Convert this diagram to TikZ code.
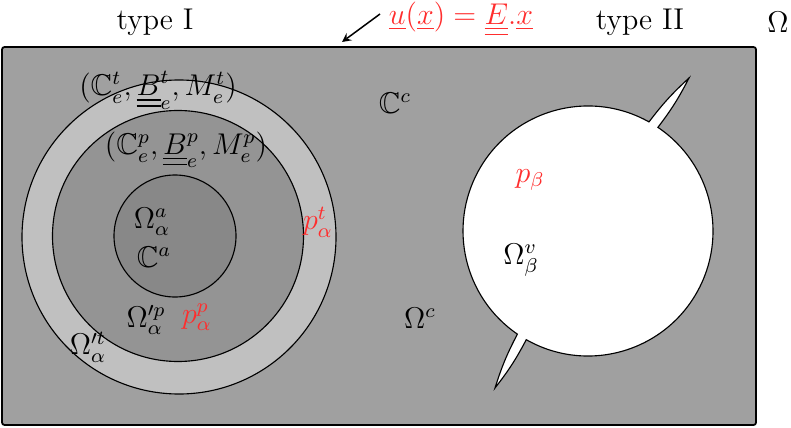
\documentclass[tikz,border=0pt]{standalone}
\usepackage{amssymb}
\definecolor{plabel}{RGB}{255,45,45}
\definecolor{bgray}{RGB}{160,160,160}
\definecolor{ringgray}{RGB}{192,192,192}
\definecolor{midgray}{RGB}{148,148,148}
\definecolor{coregray}{RGB}{136,136,136}
\newcommand{\dul}[1]{\underline{\underline{#1}}}
\begin{document}
\begin{tikzpicture}[x=0.4pt,y=0.4pt,line cap=butt,line join=miter,>=stealth,font=\large]
			\tikzset{lab/.style={inner sep=0pt},
				plab/.style={lab,text=plabel},
				bord/.style={draw=black,line width=0.45pt}
			}
			\useasboundingbox (0,0) rectangle (791,427);
			\draw[fill=bgray,line width=0.7pt,rounded corners=1pt] (2,2) rectangle (756,380);
			\coordinate (tC) at (179,190);
			\coordinate (pC) at (178,191);
			\coordinate (aC) at (175,191);
			\coordinate (vC) at (588,196);
			\draw[bord,fill=ringgray] (tC) circle (157);
			\draw[bord,fill=midgray] (pC) circle (125.5);
			\draw[bord,fill=coregray] (aC) circle (61);
			% void with its two cracks
			\draw[bord,fill=white,miter limit=25] ([shift={(60.8:125)}]vC) arc[start angle=60.8,end angle=235.6,radius=125]
			to[bend right=5] (495,39) to[bend right=5] ([shift={(240.4:125)}]vC) arc[start angle=240.4,end angle=416,radius=125]
			to[bend right=5] (689,349) to[bend right=5] cycle;
			\node[lab] (typeI) at (155,405){type I};
			\node[lab] (typeII) at (640,405){type II};
			\node[lab] (omega) at (778,405){$\Omega$};
			\node[plab] (disp) at (461,408){$\underline{u}(\underline{x})=\dul{E}.\underline{x}$};
			\coordinate (dtail) at (380,413);
			\coordinate (dhead) at (342,385);
			\draw[->,line width=0.6pt] (dtail)--(dhead);
			\node[lab] (Ct) at (158,337){$(\mathbb{C}_e^t,\dul{B}_e^t,M_e^t)$};
			\node[lab] (Cp) at (186,277){$(\mathbb{C}_e^p,\dul{B}_e^p,M_e^p)$};
			\node[lab] (Cc) at (395,324){$\mathbb{C}^c$};
			\node[lab] (Oa) at (152,205){$\Omega_\alpha^a$};
			\node[lab] (Ca) at (154,170){$\mathbb{C}^a$};
			\node[lab] (Op) at (146,107){$\Omega_\alpha'^p$};
			\node[plab] (pp) at (197,110){$p_\alpha^p$};
			\node[lab] (Ot) at (88,80){$\Omega_\alpha'^t$};
			\node[plab] (pt) at (318,205){$p_\alpha^t$};
			\node[plab] (pb) at (530,247){$p_\beta$};
			\node[lab] (Ov) at (521,167){$\Omega_\beta^v$};
			\node[lab] (Oc) at (420,109){$\Omega^c$};
		\end{tikzpicture}
\end{document}
